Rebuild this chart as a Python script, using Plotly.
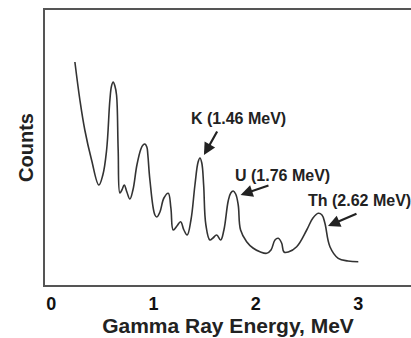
import plotly.graph_objects as go

# Gamma-ray spectrum trace (energy in MeV, counts in arbitrary units)
energy = [0.232, 0.281, 0.329, 0.395, 0.466, 0.505, 0.542, 0.574, 0.590, 0.606,
          0.623, 0.639, 0.655, 0.672, 0.691, 0.714, 0.740, 0.769, 0.799, 0.838,
          0.877, 0.898, 0.916, 0.935, 0.945, 0.965, 1.014, 1.033, 1.063, 1.102,
          1.144, 1.170, 1.193, 1.229, 1.265, 1.297, 1.329, 1.366, 1.405, 1.436,
          1.454, 1.472, 1.490, 1.512, 1.551, 1.581, 1.617, 1.656, 1.688, 1.730,
          1.755, 1.779, 1.803, 1.828, 1.851, 1.910, 1.972, 2.040, 2.106, 2.148,
          2.187, 2.219, 2.252, 2.275, 2.317, 2.399, 2.497, 2.558, 2.610, 2.646,
          2.675, 2.724, 2.805, 2.900, 3.001]
counts = [223, 185, 155, 125, 100, 110, 135, 185, 199, 203,
          199, 190, 135, 92, 95, 100, 93, 86, 95, 120,
          136, 140, 141, 138, 130, 105, 70, 68, 73, 87,
          91.7, 77, 55, 59, 63.3, 55, 50, 65, 100, 123,
          127, 122, 100, 60, 45, 47, 50, 45, 55, 84,
          92, 94, 91, 80, 55, 43.3, 37, 33.3, 31.7, 35,
          45, 46.7, 42, 33, 33, 38.3, 55, 67, 71.7, 70,
          61.7, 38.3, 26.7, 24, 23.3]

x_ticks = [0, 1, 2, 3]
x_tick_labels = ["0", "1", "2", "3"]

peak_labels = ["K (1.46 MeV)", "U (1.76 MeV)", "Th (2.62 MeV)"]
label_x = [1.835, 2.26, 3.008]
label_y = [167, 110, 85]
arrow_tail_x = [1.630, 2.138, 2.998]
arrow_tail_y = [155, 100, 72]
arrow_head_x = [1.493, 1.851, 2.705]
arrow_head_y = [130, 90, 59]

FONT = "Liberation Sans, Arial"
fig = go.Figure()
fig.add_trace(go.Scatter(
    x=energy, y=counts, mode="lines",
    line=dict(color="#333333", width=1.6, shape="spline", smoothing=1.1),
    hoverinfo="skip", showlegend=False,
))

annotations = []
for t, lx, ly in zip(peak_labels, label_x, label_y):
    annotations.append(dict(
        x=lx, y=ly, xref="x", yref="y", text="<b>" + t + "</b>",
        showarrow=False, font=dict(family=FONT, size=16, color="#222222"),
    ))
for tx, ty, hx, hy in zip(arrow_tail_x, arrow_tail_y, arrow_head_x, arrow_head_y):
    annotations.append(dict(
        x=hx, y=hy, ax=tx, ay=ty, xref="x", yref="y", axref="x", ayref="y",
        text="", showarrow=True, arrowhead=2, arrowsize=1.1, arrowwidth=2.2,
        arrowcolor="#222222",
    ))

fig.update_layout(
    width=411, height=338,
    margin=dict(l=45, r=0, t=10, b=53),
    paper_bgcolor="white", plot_bgcolor="white",
    annotations=annotations,
    xaxis=dict(
        range=[-0.06, 3.516], tickvals=x_ticks, ticktext=x_tick_labels,
        showline=True, linecolor="#555555", linewidth=1.5, mirror=True,
        showgrid=False, zeroline=False, ticks="", ticklabelstandoff=2,
        tickfont=dict(family=FONT, size=18, color="#111111", weight="bold"),
        title=dict(text="<b>Gamma Ray Energy, MeV</b>", standoff=2,
                   font=dict(family=FONT, size=21, color="#222222")),
    ),
    yaxis=dict(
        range=[0, 275], showticklabels=False, ticks="",
        showline=True, linecolor="#555555", linewidth=1.5, mirror=False,
        showgrid=False, zeroline=False,
        title=dict(text="<b>Counts</b>", standoff=4,
                   font=dict(family=FONT, size=20, color="#222222")),
    ),
)

fig.write_html("out.html")
